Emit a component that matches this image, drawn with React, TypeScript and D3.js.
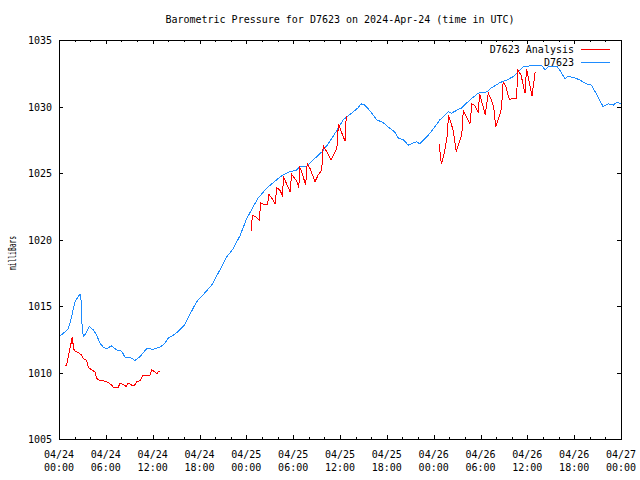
import React from "react";
import * as d3 from "d3";

const TITLE = "Barometric Pressure for D7623 on 2024-Apr-24 (time in UTC)";
const Y_LABEL = "milliBars";
const SERIES_NAMES = ["D7623 Analysis", "D7623"];
const SERIES_COLORS = ["#ff0000", "#1e8cff"];

const yTicks = [1005, 1010, 1015, 1020, 1025, 1030, 1035];
const xTickHours = [0, 6, 12, 18, 24, 30, 36, 42, 48, 54, 60, 66, 72];
const xTickDates = ["04/24", "04/24", "04/24", "04/24", "04/25", "04/25", "04/25", "04/25", "04/26", "04/26", "04/26", "04/26", "04/27"];
const xTickTimes = ["00:00", "06:00", "12:00", "18:00", "00:00", "06:00", "12:00", "18:00", "00:00", "06:00", "12:00", "18:00", "00:00"];

// hours since 2024-04-24 00:00 UTC
const obsHours = [0.0, 0.13, 0.77, 1.19, 1.5, 1.83, 2.05, 2.34, 2.69, 2.8, 2.91, 3.11, 3.4, 3.88, 4.39, 4.83, 5.25, 5.68, 6.11, 6.75, 7.39, 8.03, 8.46, 9.1, 9.74, 10.38, 11.24, 12.08, 12.94, 13.58, 14.0, 14.64, 15.28, 16.1, 17.6, 18.7, 19.6, 20.6, 21.5, 22.3, 23.2, 24.0, 24.9, 25.5, 26.6, 27.9, 28.7, 29.6, 30.4, 30.9, 31.7, 32.6, 33.7, 34.5, 35.6, 36.4, 37.5, 38.3, 38.7, 39.2, 39.8, 40.7, 41.5, 42.4, 43.0, 43.5, 44.1, 44.75, 45.8, 46.2, 47.1, 48.0, 48.8, 49.9, 50.3, 50.9, 51.6, 52.65, 53.7, 54.8, 55.4, 56.5, 57.4, 58.2, 58.8, 59.5, 60.3, 61.4, 61.8, 62.3, 62.7, 63.8, 64.2, 64.8, 65.2, 65.9, 66.7, 67.6, 68.2, 68.8, 69.7, 70.4, 71.0, 71.4, 71.9, 72.0];
const obsValues = [1012.75, 1012.75, 1013.05, 1013.3, 1013.9, 1014.8, 1015.3, 1015.6, 1015.9, 1015.8, 1013.9, 1012.7, 1012.9, 1013.45, 1013.2, 1012.8, 1012.2, 1011.9, 1011.8, 1012.0, 1011.7, 1011.6, 1011.15, 1011.15, 1010.9, 1011.2, 1011.8, 1011.75, 1011.9, 1012.2, 1012.6, 1012.8, 1013.1, 1013.6, 1015.3, 1016.0, 1016.6, 1017.7, 1018.7, 1019.3, 1020.3, 1021.5, 1022.5, 1023.1, 1023.85, 1024.5, 1024.85, 1025.1, 1025.2, 1025.5, 1025.5, 1026.0, 1026.6, 1027.2, 1028.2, 1029.0, 1029.5, 1029.9, 1030.2, 1030.1, 1029.7, 1029.0, 1028.8, 1028.35, 1028.1, 1027.6, 1027.5, 1027.1, 1027.35, 1027.2, 1027.7, 1028.35, 1029.0, 1029.6, 1029.5, 1029.7, 1029.9, 1030.5, 1031.0, 1031.1, 1031.4, 1031.8, 1032.0, 1032.25, 1032.6, 1033.0, 1033.05, 1033.1, 1033.1, 1032.75, 1033.0, 1033.0, 1032.7, 1032.1, 1032.25, 1032.2, 1032.0, 1031.7, 1031.6, 1031.0, 1030.0, 1030.2, 1030.1, 1030.3, 1030.25, 1030.2];

// analysis series; null marks a gap
const anaHours: (number | null)[] = [
  0.77, 0.98, 1.19, 1.5, 1.72, 1.85, 2.05, 2.48, 2.91, 3.11, 3.55, 3.75, 4.19, 4.61, 4.83, 5.25, 5.89, 6.32, 6.75, 6.96, 7.6, 7.82, 8.24, 8.58, 8.88, 9.31, 9.65, 9.95, 10.38, 10.8, 11.66, 11.88, 12.3, 12.52, 12.73, 12.85,
  null,
  24.68, 24.75, 25.2, 25.65, 25.84, 26.4, 26.7, 26.9, 27.45, 27.67, 27.9, 28.31, 28.6, 28.8, 29.6, 29.8, 30.44, 30.74, 30.78, 31.09, 31.6, 31.8, 32.15, 32.8, 33.2, 33.65, 33.85, 34.3, 34.85, 35.6, 35.8, 36.1, 36.65, 36.8,
  null,
  48.7, 48.9, 49.0, 49.3, 49.7, 49.9, 50.1, 50.5, 50.9, 51.15, 51.6, 51.8, 52.2, 52.65, 52.9, 53.3, 53.7, 53.9, 54.1, 54.6, 55.0, 55.4, 55.7, 55.95, 56.4, 56.7, 56.9, 57.25, 57.7, 58.0, 58.6, 58.8, 59.2, 59.7, 59.9, 60.25, 60.6, 61.0,
];
const anaValues: (number | null)[] = [
  1010.5, 1010.55, 1011.2, 1012.07, 1012.7, 1011.8, 1011.6, 1011.5, 1011.3, 1011.05, 1010.9, 1010.4, 1010.2, 1010.05, 1009.55, 1009.4, 1009.35, 1009.25, 1009.05, 1008.9, 1008.9, 1009.2, 1009.1, 1008.95, 1009.2, 1009.05, 1009.0, 1009.3, 1009.4, 1009.8, 1009.8, 1010.2, 1010.05, 1009.9, 1010.05, 1010.1,
  null,
  1020.65, 1021.85, 1021.7, 1021.45, 1022.75, 1022.6, 1022.6, 1023.4, 1022.95, 1022.65, 1023.9, 1023.7, 1023.35, 1024.65, 1023.6, 1024.9, 1024.4, 1023.85, 1025.5, 1025.1, 1024.1, 1025.7, 1025.35, 1024.35, 1024.85, 1025.2, 1027.05, 1026.6, 1026.0, 1026.85, 1028.7, 1028.2, 1027.4, 1029.3,
  null,
  1027.2, 1026.1, 1025.65, 1026.35, 1027.6, 1029.25, 1029.0, 1028.2, 1026.6, 1027.1, 1027.85, 1029.7, 1029.2, 1028.7, 1030.2, 1030.05, 1029.6, 1030.9, 1030.5, 1029.4, 1031.0, 1030.5, 1029.9, 1028.5, 1029.25, 1029.9, 1031.85, 1031.5, 1030.5, 1030.6, 1030.6, 1032.75, 1032.35, 1031.0, 1032.85, 1031.85, 1030.8, 1032.6,
];

const W = 640, H = 480;
const L = 59, R = 621, T = 40, B = 439;
const FONT = "'DejaVu Sans Mono', 'Liberation Mono', monospace";

export default function App() {
  const x = d3.scaleLinear().domain([0, 72]).range([L, R]);
  const y = d3.scaleLinear().domain([1005, 1035]).range([B, T]);

  type P = [number | null, number | null];
  const line = d3
    .line<P>()
    .defined((d) => d[0] != null && d[1] != null)
    .x((d) => x(d[0] as number))
    .y((d) => y(d[1] as number));

  const obs: P[] = obsHours.map((h, i) => [h, obsValues[i]]);
  const ana: P[] = anaHours.map((h, i) => [h, anaValues[i]]);

  const minorTicks = d3.range(0, 73, 2);

  return (
    <svg
      width={W}
      height={H}
      style={{ position: "absolute", left: 0, top: 0, background: "#fff" }}
      fontFamily={FONT}
      fontSize={10}
    >
      <rect x={0} y={0} width={W} height={H} fill="#fff" />
      <text x={(L + R) / 2} y={23} textAnchor="middle" fill="#000">
        {TITLE}
      </text>
      <text
        transform={`translate(15.5,253) rotate(-90)`}
        textAnchor="middle"
        fill="#000"
        fontSize={10}
        textLength={34}
        lengthAdjust="spacingAndGlyphs"
      >
        {Y_LABEL}
      </text>

      <g shapeRendering="crispEdges" stroke="#000" strokeWidth={1}>
        {minorTicks.map((h) => {
          const major = h % 6 === 0;
          const len = major ? 4 : 2;
          const px = Math.round(x(h)) + 0.5;
          return (
            <g key={"xt" + h}>
              <line x1={px} x2={px} y1={B} y2={B - len} />
              <line x1={px} x2={px} y1={T} y2={T + len} />
            </g>
          );
        })}
        {yTicks.map((v) => {
          const py = Math.round(y(v)) + 0.5;
          return (
            <g key={"yt" + v}>
              <line x1={L} x2={L + 4} y1={py} y2={py} />
              <line x1={R} x2={R - 4} y1={py} y2={py} />
            </g>
          );
        })}
      </g>

      {yTicks.map((v) => (
        <text key={"yl" + v} x={52} y={y(v) + 4} textAnchor="end" fill="#000">
          {v}
        </text>
      ))}
      {xTickHours.map((h, i) => (
        <g key={"xl" + h}>
          <text x={x(h)} y={458} textAnchor="middle" fill="#000">
            {xTickDates[i]}
          </text>
          <text x={x(h)} y={471} textAnchor="middle" fill="#000">
            {xTickTimes[i]}
          </text>
        </g>
      ))}

      <path d={line(obs) || ""} fill="none" stroke={SERIES_COLORS[1]} strokeWidth={1} shapeRendering="crispEdges" />
      <path d={line(ana) || ""} fill="none" stroke={SERIES_COLORS[0]} strokeWidth={1} shapeRendering="crispEdges" />

      {SERIES_NAMES.map((name, i) => (
        <g key={name}>
          <text x={574} y={53 + i * 12.5} textAnchor="end" fill="#000">
            {name}
          </text>
          <line
            x1={581}
            x2={610}
            y1={49.5 + i * 12.5}
            y2={49.5 + i * 12.5}
            stroke={SERIES_COLORS[i]}
            strokeWidth={1}
            shapeRendering="crispEdges"
          />
        </g>
      ))}

      <rect
        x={L + 0.5}
        y={T + 0.5}
        width={R - L}
        height={B - T}
        fill="none"
        stroke="#000"
        strokeWidth={1}
        shapeRendering="crispEdges"
      />
    </svg>
  );
}
